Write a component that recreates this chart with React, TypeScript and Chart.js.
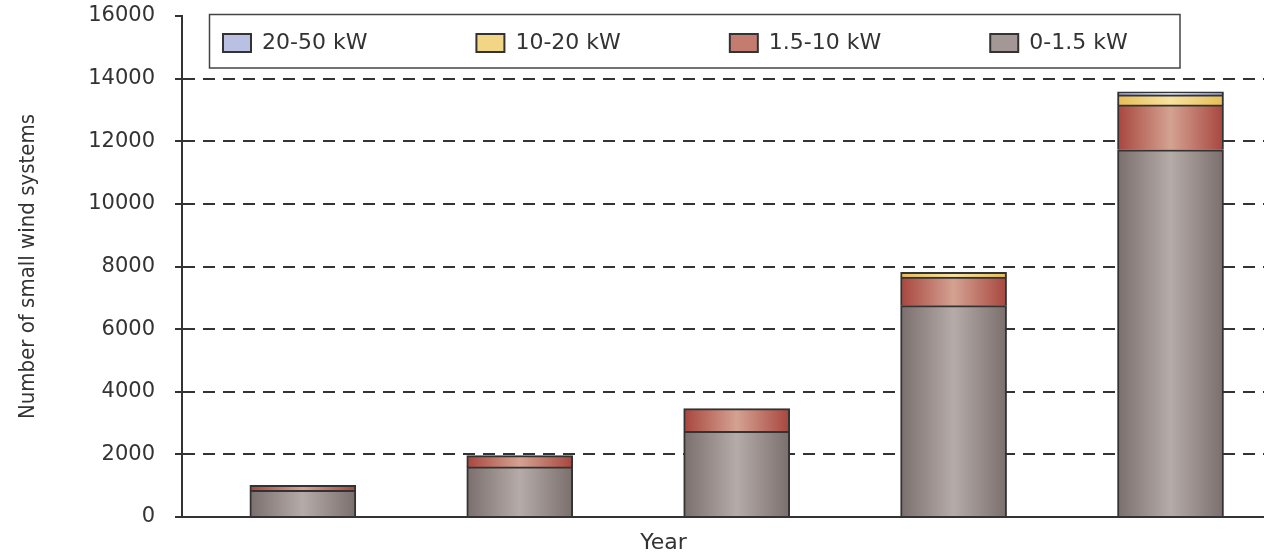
import React, { useEffect, useRef } from 'react';
import { Chart, registerables } from 'chart.js';

Chart.register(...registerables);

// ---- data ----
const categories = ['Period 1', 'Period 2', 'Period 3', 'Period 4', 'Period 5'];
const seriesNames = ['0-1.5 kW', '1.5-10 kW', '10-20 kW', '20-50 kW'];
const values0to1_5 = [850, 1600, 2740, 6750, 11730];
const values1_5to10 = [160, 360, 720, 910, 1430];
const values10to20 = [0, 0, 0, 150, 320];
const values20to50 = [0, 0, 0, 0, 100];
const yTicks = [0, 2000, 4000, 6000, 8000, 10000, 12000, 14000, 16000];
const yTitle = 'Number of small wind systems';
const xTitle = 'Year';

// ---- styles ----
const BAR_WIDTH = 106;
const TEXT = '#333333';
const WIDE_FONT = "'DejaVu Sans', Verdana, sans-serif";
const NARROW_FONT = "'DejaVu Sans Condensed', 'Liberation Sans Narrow', sans-serif";

const palette = [
  { edge: '#7a6f6c', mid: '#b5aba8', legend: '#a39896' },
  { edge: '#a8463e', mid: '#d4a292', legend: '#c57c70' },
  { edge: '#e6be58', mid: '#f8e2a0', legend: '#f2d585' },
  { edge: '#8a92c4', mid: '#d0d5ee', legend: '#b9c0e2' },
];

function barFill(edge: string, mid: string, legend: string) {
  return (c: any) => {
    const chart = c.chart;
    if (c.type !== 'data' || !chart.chartArea || !chart.scales || !chart.scales.x) return legend;
    const xc = chart.scales.x.getPixelForValue(c.dataIndex);
    if (!isFinite(xc)) return legend;
    const half = BAR_WIDTH / 2;
    const g = chart.ctx.createLinearGradient(xc - half, 0, xc + half, 0);
    g.addColorStop(0, edge);
    g.addColorStop(0.5, mid);
    g.addColorStop(1, edge);
    return g;
  };
}

const legendOverlay = {
  id: 'legendOverlay',
  afterLayout(chart: any) {
    const lg = chart.legend;
    if (!lg || !lg.options) return;
    const pad = lg.options.labels.padding;
    const ca = chart.chartArea;
    lg.left = ca.left + 41 - pad;
    lg.right = chart.width;
    lg.top = 32 - pad;
    lg.bottom = 32 + 40;
    lg.width = lg.right - lg.left;
    lg.height = lg.bottom - lg.top;
  },
  afterDraw(chart: any) {
    const { ctx, chartArea: ca } = chart;
    ctx.save();
    ctx.strokeStyle = '#444444';
    ctx.lineWidth = 1.5;
    ctx.strokeRect(ca.left + 27.5, 14.5, 970.5, 53.5);
    ctx.restore();
  },
};

export default function App() {
  const canvasRef = useRef<HTMLCanvasElement | null>(null);

  useEffect(() => {
    if (!canvasRef.current) return;
    const seriesValues = [values0to1_5, values1_5to10, values10to20, values20to50];
    const datasets = seriesNames.map((name, si) => ({
      label: name,
      data: categories.map((_, i) => ({ x: i, y: seriesValues[si][i] })),
      backgroundColor: barFill(palette[si].edge, palette[si].mid, palette[si].legend),
      borderColor: '#333333',
      borderWidth: 2,
      barThickness: BAR_WIDTH,
    }));

    const chart = new Chart(canvasRef.current, {
      type: 'bar',
      data: { datasets } as any,
      options: {
        responsive: true,
        maintainAspectRatio: false,
        animation: false,
        layout: { padding: { top: 16, left: 0, right: 0, bottom: 0 } },
        plugins: {
          legend: {
            position: 'top',
            align: 'start',
            reverse: true,
            maxHeight: 0.01,
            labels: {
              boxWidth: 28,
              boxHeight: 18,
              padding: 109,
              color: TEXT,
              font: { family: WIDE_FONT, size: 22 },
              generateLabels: (ch: any) =>
                Chart.defaults.plugins.legend.labels
                  .generateLabels(ch)
                  .map((l: any) => ({ ...l, fillStyle: palette[l.datasetIndex].legend })),
            },
          },
          tooltip: { enabled: false },
        },
        scales: {
          x: {
            type: 'linear',
            min: -0.557,
            max: 4.431,
            offset: false,
            stacked: true,
            grid: { display: false, drawTicks: false },
            ticks: { display: false },
            border: { display: true, color: '#333333', width: 2 },
            title: {
              display: true,
              text: xTitle + '\u00A0'.repeat(17),
              color: TEXT,
              font: { family: WIDE_FONT, size: 22 },
              padding: { top: 12.6, bottom: 0 },
            },
          },
          y: {
            stacked: true,
            min: yTicks[0],
            max: yTicks[yTicks.length - 1],
            afterBuildTicks: (s: any) => {
              s.ticks = yTicks.map((v) => ({ value: v }));
            },
            afterFit: (s: any) => {
              s.width = 182;
              s.paddingTop = 0;
              s.paddingBottom = 0;
            },
            ticks: {
              callback: (v: any) => String(v),
              color: TEXT,
              font: { family: WIDE_FONT, size: 21 },
              padding: 20,
            },
            grid: {
              color: (c: any) =>
                c.tick && (c.tick.value === yTicks[0] || c.tick.value === yTicks[yTicks.length - 1])
                  ? 'rgba(0,0,0,0)'
                  : '#333333',
              lineWidth: 2,
              tickColor: '#333333',
              tickLength: 7,
              tickWidth: 2,
              tickBorderDash: [],
            },
            border: { display: true, color: '#333333', width: 2, dash: [12, 8] },
            title: {
              display: true,
              text: yTitle,
              color: TEXT,
              font: { family: NARROW_FONT, size: 22 },
              padding: { top: 15, bottom: 0 },
            },
          },
        },
      } as any,
      plugins: [legendOverlay],
    });
    return () => chart.destroy();
  }, []);

  return (
    <div style={{ position: 'fixed', left: 0, top: 0, width: 1264, height: 556, background: '#ffffff' }}>
      <canvas ref={canvasRef} />
    </div>
  );
}
